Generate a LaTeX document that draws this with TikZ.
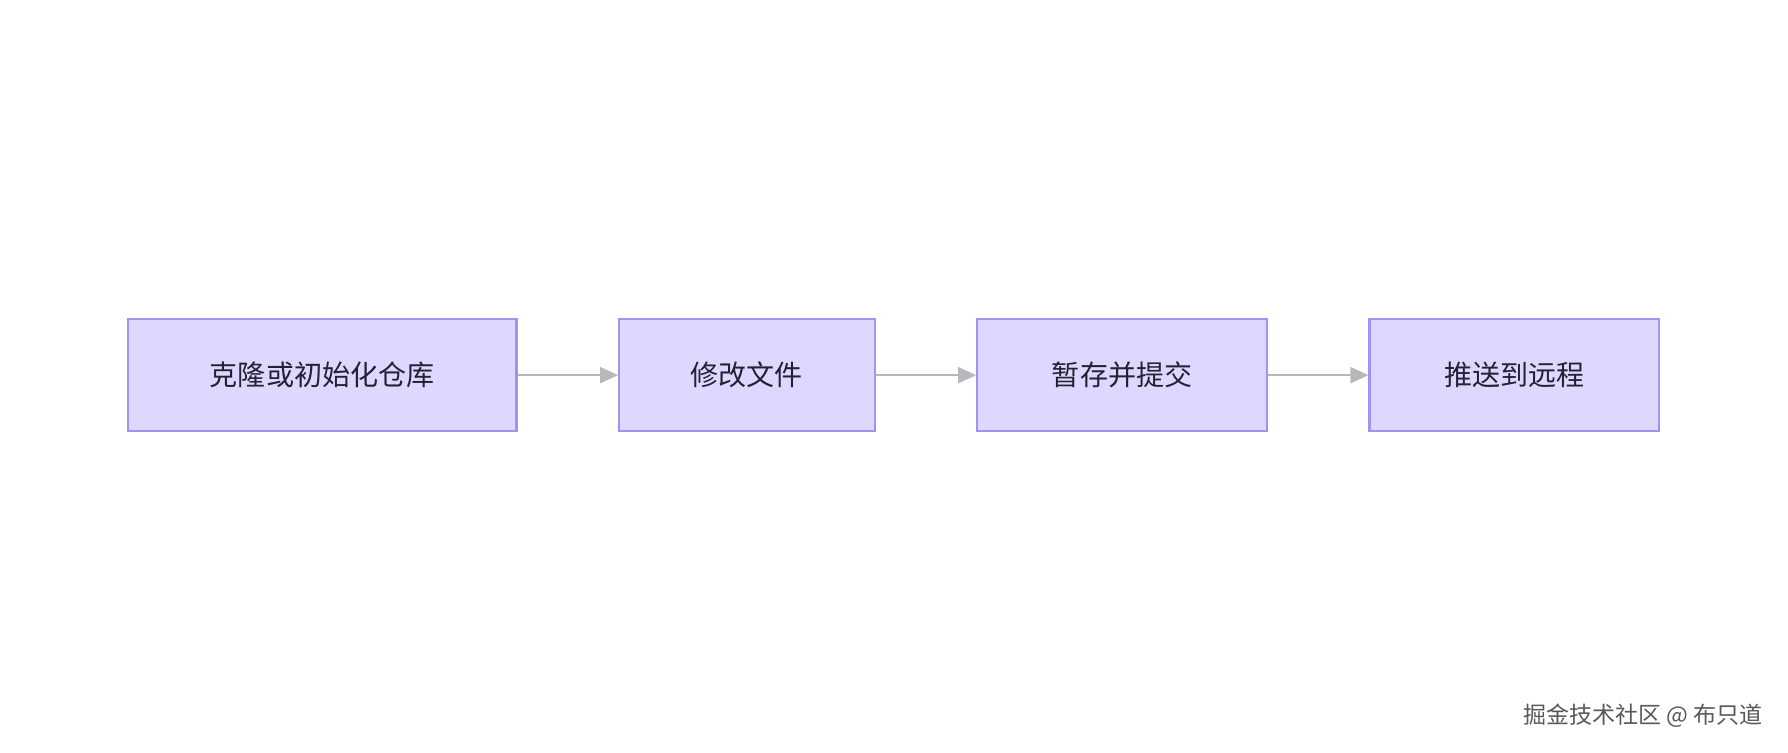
\documentclass[tikz,border=0pt]{standalone}
\usepackage{fontspec}
\newfontfamily\cjk{Noto Sans CJK SC}
\usetikzlibrary{arrows.meta}
\definecolor{boxfill}{HTML}{DCD8FF}
\definecolor{boxline}{HTML}{9F94F0}
\definecolor{arr}{HTML}{B8B8BC}
\definecolor{txt}{HTML}{222233}
\begin{document}
\begin{tikzpicture}[x=0.02cm,y=-0.02cm,
  box/.style={draw=boxline,fill=boxfill,line width=1.1pt,inner sep=0pt,text=txt,font=\cjk\fontsize{14}{16}\selectfont},
  conn/.style={draw=arr,line width=1pt,-{Triangle[length=9pt,width=8pt]}}]
\useasboundingbox (0,0) rectangle (1568,660);
\fill[white] (0,0) rectangle (1568,660);
\node[box,minimum width=341*0.02cm,minimum height=98*0.02cm] (a) at (282.5,329) {克隆或初始化仓库};
\node[box,minimum width=224*0.02cm,minimum height=98*0.02cm] (b) at (655,329) {修改文件};
\node[box,minimum width=254*0.02cm,minimum height=98*0.02cm] (c) at (984,329) {暂存并提交};
\node[box,minimum width=254*0.02cm,minimum height=98*0.02cm] (d) at (1328,329) {推送到远程};
\draw[conn] (a) -- (b);
\draw[conn] (b) -- (c);
\draw[conn] (c) -- (d);
\node[anchor=east,text=gray!70!black,font=\cjk\fontsize{11.5}{13}\selectfont] (w) at (1552,628) {掘金技术社区 @ 布只道};
\end{tikzpicture}
\end{document}
